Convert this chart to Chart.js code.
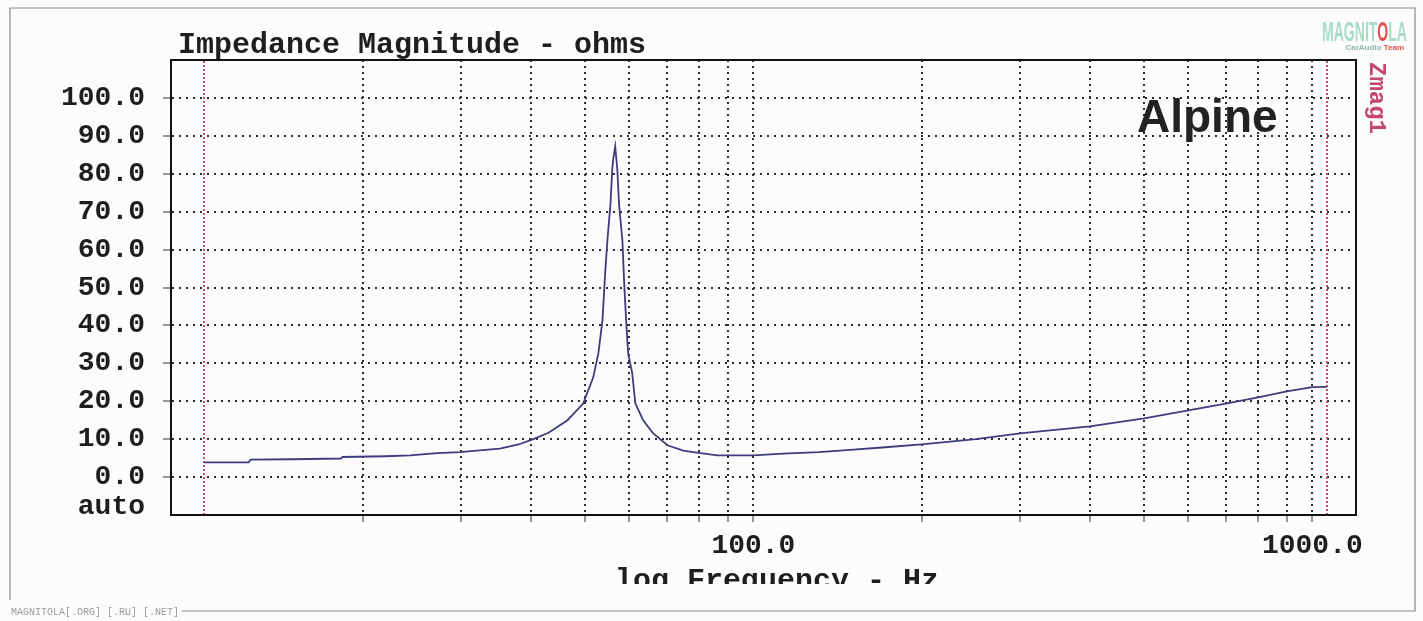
<!DOCTYPE html>
<html>
<head>
<meta charset="utf-8">
<title>Impedance Magnitude - ohms</title>
<script src="https://cdn.jsdelivr.net/npm/chart.js@4/dist/chart.umd.min.js"></script>
<style>
  html, body { margin: 0; padding: 0; background: #fcfcfc; }
  canvas { display: block; }
</style>
</head>
<body>
<canvas id="zmag_chart" width="1423" height="621"></canvas>
<script>
const freqHz = [10.4, 12.5, 12.6, 15, 18.3, 18.4, 22, 24.3, 27.2, 29.9, 32, 35.2, 38, 40.4, 43, 46.5, 49.6,
  51.7, 52.8, 53.7, 54.3, 54.8, 55.5, 55.9, 56.1, 56.6, 57.1, 57.5, 58.3, 58.7, 59.2, 59.7, 60.7, 61.5,
  63.5, 66.2, 70.2, 74.9, 80.4, 86.2, 100, 113, 131, 149, 170, 200, 250, 300, 350, 400, 450, 500, 600,
  700, 800, 900, 1000, 1062];
const impedanceOhm = [3.9, 3.9, 4.6, 4.7, 4.9, 5.3, 5.5, 5.7, 6.3, 6.6, 7.0, 7.5, 8.6, 10.0, 11.7, 15.0, 19.4,
  26.3, 32.6, 41.3, 53.7, 62.4, 72.0, 80.9, 83.5, 87.2, 81.0, 72.0, 62.4, 51.8, 41.3, 32.6, 27.4, 19.4,
  15.0, 11.5, 8.4, 7.0, 6.3, 5.7, 5.7, 6.2, 6.6, 7.2, 7.8, 8.6, 10.0, 11.5, 12.5, 13.4, 14.5, 15.5, 17.6,
  19.4, 21.0, 22.6, 23.7, 23.8];

// red cursor lines at both ends of the sweep
const cursorHz = [10.4, 1062];

// axis ticks
const xTicks = [20, 30, 40, 50, 60, 70, 80, 90, 100, 200, 300, 400, 500, 600, 700, 800, 900, 1000];
const xLabels = { 100: "100.0", 1000: "1000.0" };
const yTicks = [-8, 0, 10, 20, 30, 40, 50, 60, 70, 80, 90, 100];

const monoFont = "'Liberation Mono', 'DejaVu Sans Mono', monospace";
const inkColor = "#1e1e1e";
const dotColor = "#2e2e2e";

const curvePoints = freqHz.map((f, i) => ({ x: f, y: impedanceOhm[i] }));
const cursorSets = cursorHz.map(f => ({
  data: [{ x: f, y: -10 }, { x: f, y: 110 }],
  borderColor: "#c4486e",
  borderWidth: 2,
  borderDash: [2, 2],
  pointRadius: 0
}));

const paperPlugin = {
  id: "paper",
  beforeDraw(chart) {
    const ctx = chart.ctx;
    ctx.save();
    ctx.fillStyle = "#fcfcfc";
    ctx.fillRect(0, 0, chart.width, chart.height);
    ctx.restore();
  },
  afterDraw(chart) {
    const ctx = chart.ctx;
    const area = chart.chartArea;
    ctx.save();

    // plot box
    ctx.strokeStyle = "#111";
    ctx.lineWidth = 2;
    ctx.strokeRect(area.left, area.top, area.right - area.left, area.bottom - area.top);

    // outer frame of the scan
    ctx.strokeStyle = "#8a8a8a";
    ctx.lineWidth = 1.2;
    ctx.beginPath();
    ctx.moveTo(10, 600);
    ctx.lineTo(10, 8);
    ctx.lineTo(1415, 8);
    ctx.lineTo(1415, 611);
    ctx.lineTo(182, 611);
    ctx.stroke();

    // title
    ctx.fillStyle = inkColor;
    ctx.font = "bold 30px " + monoFont;
    ctx.textAlign = "left";
    ctx.textBaseline = "alphabetic";
    ctx.fillText("Impedance Magnitude - ohms", 178, 53);

    // x axis title, cut off by the scan
    ctx.save();
    ctx.beginPath();
    ctx.rect(0, 560, chart.width, 24);
    ctx.clip();
    ctx.font = "bold 30px " + monoFont;
    ctx.textAlign = "center";
    ctx.fillText("log Frequency - Hz", 777, 589);
    ctx.restore();

    // brand name
    ctx.fillStyle = "#222";
    ctx.font = "bold 46px 'Liberation Sans', Arial, sans-serif";
    ctx.textAlign = "left";
    ctx.fillText("Alpine", 1137, 132);

    // curve name, turned on its side
    ctx.save();
    ctx.translate(1366, 62);
    ctx.rotate(Math.PI / 2);
    ctx.fillStyle = "#c4486e";
    ctx.font = "bold 24px " + monoFont;
    ctx.textAlign = "left";
    ctx.textBaseline = "middle";
    ctx.fillText("Zmag1", 0, -10);
    ctx.restore();

    // logo
    ctx.save();
    ctx.translate(1322, 41);
    ctx.scale(0.52, 1);
    ctx.font = "bold 27px 'Liberation Sans', Arial, sans-serif";
    ctx.fillStyle = "#a9dcc6";
    ctx.textAlign = "left";
    ctx.fillText("MAGNIT", 0, 0);
    let w = ctx.measureText("MAGNIT").width;
    ctx.fillStyle = "#e0524f";
    ctx.fillText("O", w, 0);
    w += ctx.measureText("O").width;
    ctx.fillStyle = "#a9dcc6";
    ctx.fillText("LA", w, 0);
    ctx.restore();
    ctx.font = "bold 8px 'Liberation Sans', Arial, sans-serif";
    ctx.textAlign = "right";
    ctx.fillStyle = "#e0524f";
    ctx.fillText("Team", 1404, 50);
    const teamW = ctx.measureText("Team ").width;
    ctx.fillStyle = "#8fb5a8";
    ctx.fillText("CarAudio", 1404 - teamW, 50);

    // watermark
    ctx.font = "10px " + monoFont;
    ctx.fillStyle = "#9a9a9a";
    ctx.textAlign = "left";
    ctx.fillText("MAGNITOLA[.ORG] [.RU] [.NET]", 11, 615);

    ctx.restore();
  }
};

const ctxZmag = document.getElementById("zmag_chart");
new Chart(ctxZmag, {
  type: "line",
  data: {
    datasets: [
      {
        data: curvePoints,
        borderColor: "#3d3d7c",
        borderWidth: 1.8,
        pointRadius: 0,
        tension: 0
      },
      ...cursorSets
    ]
  },
  options: {
    responsive: false,
    animation: false,
    devicePixelRatio: 1,
    layout: { padding: { left: 0, top: 60, right: 67, bottom: 0 } },
    plugins: {
      legend: { display: false },
      tooltip: { enabled: false },
      title: { display: false }
    },
    scales: {
      x: {
        type: "logarithmic",
        min: 9.08,
        max: 1197,
        afterBuildTicks: axis => {
          axis.ticks = xTicks.map(v => ({ value: v }));
        },
        afterFit: axis => { axis.height = 106; },
        // border.dash sets the dots of the grid lines in v4
        border: { display: true, color: "#111", width: 2, dash: [2, 4] },
        grid: {
          color: dotColor,
          lineWidth: 2,
          tickBorderDash: [],
          tickColor: dotColor,
          tickLength: 7,
          tickWidth: 1
        },
        ticks: {
          autoSkip: false,
          maxRotation: 0,
          minRotation: 0,
          padding: 7,
          color: inkColor,
          font: { family: monoFont, size: 28, weight: "bold" },
          callback: value => xLabels[value] || ""
        }
      },
      y: {
        type: "linear",
        min: -10,
        max: 110,
        afterBuildTicks: axis => {
          axis.ticks = yTicks.map(v => ({ value: v }));
        },
        afterFit: axis => { axis.width = 171; },
        border: { display: true, color: "#111", width: 2, dash: [2, 5] },
        grid: {
          color: c => (c.tick && c.tick.value === -8 ? "rgba(0,0,0,0)" : dotColor),
          lineWidth: 2,
          tickBorderDash: [],
          tickColor: c => (c.tick && c.tick.value === -8 ? "rgba(0,0,0,0)" : dotColor),
          tickLength: 8,
          tickWidth: 1
        },
        ticks: {
          padding: 18,
          color: inkColor,
          font: { family: monoFont, size: 28, weight: "bold" },
          callback: value => (value === -8 ? "auto" : value.toFixed(1))
        }
      }
    }
  },
  plugins: [paperPlugin]
});
</script>
</body>
</html>
